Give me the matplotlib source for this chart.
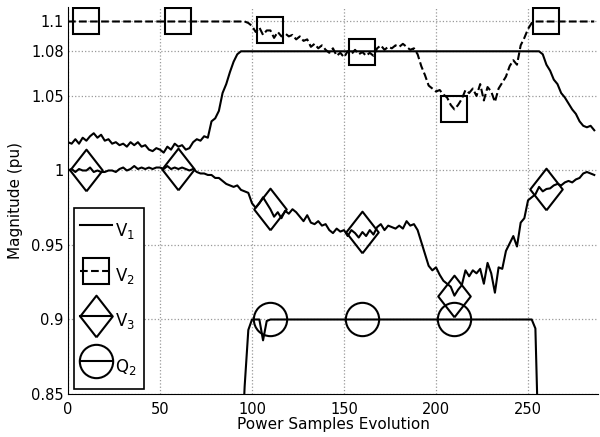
import numpy as np
import matplotlib
matplotlib.use("Agg")
import matplotlib.pyplot as plt

# sample index (every 2nd sample)
samples = np.arange(0, 288, 2)

v1 = [1.019, 1.018, 1.021, 1.018, 1.022, 1.020, 1.023, 1.025, 1.022, 1.024,
      1.020, 1.021, 1.018, 1.019, 1.017, 1.018, 1.016, 1.019, 1.017, 1.019,
      1.016, 1.017, 1.014, 1.013, 1.015, 1.014, 1.012, 1.016, 1.014, 1.018,
      1.016, 1.017, 1.014, 1.015, 1.019, 1.021, 1.020, 1.023, 1.022, 1.033,
      1.035, 1.040, 1.052, 1.058, 1.066, 1.073, 1.078] + [1.08] * 82 + \
     [1.078, 1.071, 1.067, 1.061, 1.058, 1.052, 1.049, 1.045, 1.041, 1.038,
      1.033, 1.030, 1.029, 1.030, 1.027]

v2 = [1.1] * 49 + \
     [1.099, 1.097, 1.093, 1.096, 1.091, 1.094, 1.094, 1.089, 1.093, 1.090,
      1.092, 1.090, 1.091, 1.088, 1.090, 1.087, 1.088, 1.083, 1.085, 1.082,
      1.084, 1.081, 1.079, 1.082, 1.077, 1.079, 1.076, 1.080, 1.078, 1.081,
      1.078, 1.0795, 1.077, 1.079, 1.077, 1.082, 1.084, 1.081, 1.083, 1.082,
      1.084, 1.083, 1.085, 1.083, 1.081, 1.082, 1.078, 1.070, 1.064, 1.057,
      1.055, 1.053, 1.054, 1.051, 1.049, 1.044, 1.041, 1.044, 1.048, 1.054,
      1.052, 1.055, 1.050, 1.058, 1.047, 1.056, 1.053, 1.046, 1.055, 1.059,
      1.063, 1.070, 1.074, 1.071, 1.084, 1.089, 1.095, 1.099] + [1.1] * 17

v3 = [1.000, 1.001, 0.999, 1.001, 1.000, 1.000, 1.002, 0.999, 1.000, 0.999,
      0.999, 1.000, 1.000, 0.999, 1.001, 1.002, 1.000, 1.001, 1.003, 1.001,
      1.002, 1.001, 1.002, 1.001, 1.002, 1.002, 1.001, 1.003, 1.001, 1.002,
      1.001, 1.002, 1.001, 1.000, 1.001, 0.999, 0.998, 0.998, 0.997, 0.997,
      0.995, 0.995, 0.993, 0.991, 0.990, 0.989, 0.990, 0.987, 0.986, 0.985,
      0.978, 0.975, 0.978, 0.982, 0.978, 0.974, 0.969, 0.972, 0.968, 0.973,
      0.971, 0.974, 0.972, 0.969, 0.966, 0.970, 0.965, 0.964, 0.966, 0.963,
      0.964, 0.960, 0.958, 0.961, 0.959, 0.960, 0.956, 0.960, 0.958, 0.955,
      0.9587, 0.956, 0.960, 0.957, 0.962, 0.964, 0.960, 0.963, 0.962, 0.961,
      0.963, 0.961, 0.966, 0.963, 0.964, 0.960, 0.952, 0.944, 0.936, 0.933,
      0.935, 0.930, 0.926, 0.924, 0.922, 0.916, 0.920, 0.923, 0.933, 0.929,
      0.933, 0.931, 0.934, 0.924, 0.938, 0.931, 0.918, 0.935, 0.934, 0.946,
      0.951, 0.956, 0.949, 0.965, 0.968, 0.980, 0.982, 0.984, 0.989, 0.986,
      0.9876, 0.988, 0.990, 0.991, 0.990, 0.992, 0.993, 0.992, 0.994, 0.995,
      0.998, 0.999, 0.998, 0.997]

q2 = [0.80] * 48 + [0.855, 0.893, 0.9, 0.9, 0.9, 0.886, 0.899] + [0.9] * 72 + \
     [0.894] + [0.80] * 16

yticks = [0.85, 0.9, 0.95, 1, 1.05, 1.08, 1.1]
ytick_labels = ['0.85', '0.9', '0.95', '1', '1.05', '1.08', '1.1']
xticks = [0, 50, 100, 150, 200, 250]

diamond = [(0, -1), (0.78, 0), (0, 1), (-0.78, 0), (0, -1)]
mk = dict(markevery=(5, 25), markerfacecolor='none', markeredgecolor='k',
          markeredgewidth=1.5)

fig = plt.figure(figsize=(6, 4.37), dpi=100)
ax = fig.add_axes([0.1133, 0.0984, 0.8833, 0.8865])

ax.plot(samples, v1, color='k', lw=1.5, label='V$_1$')
ax.plot(samples, v2, color='k', lw=1.5, ls='--', marker='s', ms=19,
        label='V$_2$', **mk)
ax.plot(samples, v3, color='k', lw=1.5, marker=diamond, ms=30,
        label='V$_3$', **mk)
ax.plot(samples, q2, color='k', lw=1.5, marker='o', ms=24,
        label='Q$_2$', **mk)

ax.set_xlim(0, 288)
ax.set_ylim(0.85, 1.11)
ax.set_xticks(xticks)
ax.set_yticks(yticks)
ax.set_yticklabels(ytick_labels)
ax.tick_params(axis='both', direction='in', length=0, labelsize=10.5)
ax.tick_params(axis='x', pad=6)
ax.tick_params(axis='y', pad=3)
ax.grid(True, ls=':', color='#999999', lw=0.9)
ax.spines['top'].set_visible(False)
ax.spines['right'].set_visible(False)
ax.set_xlabel('Power Samples Evolution', fontsize=11, labelpad=0)
ax.set_ylabel('Magnitude (pu)', fontsize=11, labelpad=6)

leg = ax.legend(loc='lower left', bbox_to_anchor=(0.011, 0.013),
                borderaxespad=0, numpoints=1, fontsize=12, fancybox=False,
                edgecolor='k', framealpha=1, borderpad=0.4,
                handlelength=1.9, handleheight=2.5, labelspacing=0.85,
                handletextpad=0.2)
leg.get_frame().set_linewidth(1.2)

fig.savefig('out.png', dpi=100)
